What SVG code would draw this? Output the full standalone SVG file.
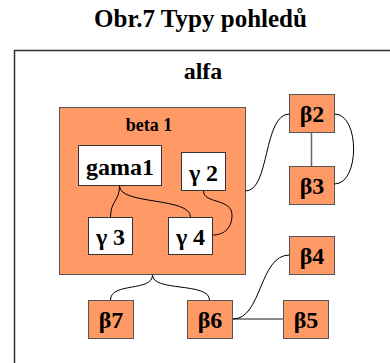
<svg xmlns="http://www.w3.org/2000/svg" width="390" height="363" viewBox="0 0 390 363">
  <style>
    text { font-family: "Liberation Serif", "Times New Roman", serif; font-weight: bold; fill: #000; text-anchor: middle; }
    .title { font-size: 25px; }
    .big { font-size: 24px; }
    .lbl { font-size: 24px; }
    .small { font-size: 18px; }
    .box { fill: #FF9966; stroke: #555; stroke-width: 1; }
    .wbox { fill: #fff; stroke: #333; stroke-width: 1; }
    .frame { fill: #fff; stroke: #333; stroke-width: 1.5; }
    .curve { fill: none; stroke: #000; stroke-width: 1; }
    .line { fill: none; stroke: #666; stroke-width: 1.5; }
  </style>

  <rect width="390" height="363" fill="#fff"/>
  <text class="title" x="200.5" y="27">Obr.7 Typy pohledů</text>

  <!-- outer view -->
  <g id="alfa">
    <rect class="frame" x="14.5" y="50.5" width="420" height="360"/>
    <text class="big" x="203" y="79">alfa</text>
  </g>

  <g id="beta1">
    <rect class="box" x="59.5" y="107.5" width="186" height="167"/>
    <text class="small" x="149" y="131">beta 1</text>
  </g>

  <g id="gama1">
    <rect class="wbox" x="78.5" y="145.5" width="83" height="40"/>
    <text class="lbl" x="120" y="175">gama1</text>
  </g>
  <g id="gamma2">
    <rect class="wbox" x="181.5" y="152.5" width="44" height="38"/>
    <text class="lbl" x="203.5" y="181">γ 2</text>
  </g>
  <g id="gamma3">
    <rect class="wbox" x="88.5" y="217.5" width="44" height="37"/>
    <text class="lbl" x="110.5" y="245">γ 3</text>
  </g>
  <g id="gamma4">
    <rect class="wbox" x="168.5" y="217.5" width="44" height="37"/>
    <text class="lbl" x="190.5" y="245">γ 4</text>
  </g>

  <g id="beta2">
    <rect class="box" x="289.5" y="94.5" width="45" height="38"/>
    <text class="lbl" x="312" y="122">β2</text>
  </g>
  <g id="beta3">
    <rect class="box" x="289.5" y="166.5" width="45" height="38"/>
    <text class="lbl" x="312" y="194">β3</text>
  </g>
  <g id="beta4">
    <rect class="box" x="289.5" y="236.5" width="45" height="38"/>
    <text class="lbl" x="312" y="264">β4</text>
  </g>
  <g id="beta5">
    <rect class="box" x="283.5" y="300.5" width="45" height="38"/>
    <text class="lbl" x="306" y="328">β5</text>
  </g>
  <g id="beta6">
    <rect class="box" x="187.5" y="300.5" width="45" height="38"/>
    <text class="lbl" x="210" y="328">β6</text>
  </g>
  <g id="beta7">
    <rect class="box" x="88.5" y="300.5" width="45" height="38"/>
    <text class="lbl" x="111" y="328">β7</text>
  </g>

  <g id="connectors">
    <!-- straight links -->
    <line class="line" x1="311.5" y1="133" x2="311.5" y2="166"/>
    <line class="line" x1="233" y1="319" x2="283" y2="319"/>
    <!-- curved links -->
    <path class="curve" d="M334.5,114 C360,114 360,184 334.5,184"/>
    <path class="curve" d="M245.5,191 C270,191 263,114 289.5,114"/>
    <path class="curve" d="M119.5,186 C119.5,201 110.5,201 110.5,217"/>
    <path class="curve" d="M119.5,186 C119.5,205 190.5,197 190.5,217"/>
    <path class="curve" d="M203.5,191 C203.5,204 232,198 232,215 C232,230 222,235 213,235"/>
    <path class="curve" d="M152.5,275 C152.5,292 110.5,282 110.5,300"/>
    <path class="curve" d="M152.5,275 C152.5,292 209.5,282 209.5,300"/>
    <path class="curve" d="M233,319 C262,319 259,255 289.5,255"/>
  </g>
</svg>
